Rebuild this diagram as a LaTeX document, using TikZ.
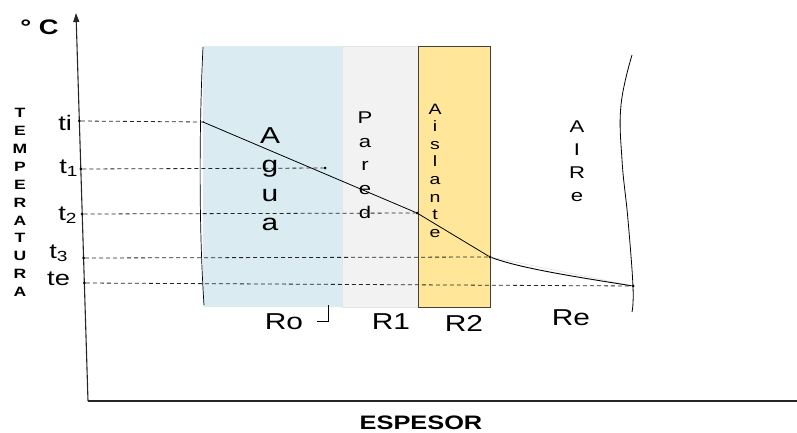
\documentclass[tikz,border=0pt]{standalone}
\usepackage{fontspec}
\setmainfont[FakeStretch=1.3]{Liberation Sans}
\usepackage{tikz}
\usetikzlibrary{arrows.meta,positioning}
\definecolor{WBlue}{HTML}{DAEBF2}
\definecolor{WGray}{HTML}{F2F2F2}
\definecolor{WGold}{HTML}{FFE699}
\definecolor{WEdge}{HTML}{404040}
\newcommand\fsz[2]{\fontsize{#1}{#2}\selectfont}

\begin{document}
\begin{tikzpicture}[
  x=1pt,y=-1pt,
  every node/.style={inner sep=0pt,outer sep=0pt},
  layer/.style={anchor=north west,minimum height=261pt,inner sep=0pt},
  dot/.style={circle,fill=black,minimum size=3pt,inner sep=0pt},
  guide/.style={dash pattern=on 4pt off 3pt,line width=0.8pt,color=black!85},
  axis/.style={line width=1.1pt,color=black!85},
  tick/.style={font=\fsz{21}{21},anchor=east},
  rlbl/.style={font=\fsz{23}{23}}
]
  \useasboundingbox (0,0) rectangle (797,433);

  % layers
  \node[layer,fill=WBlue,minimum width=139pt] (agua) at (203,46) {};
  \node[layer,fill=WGray,draw=black!10,minimum width=76pt] (pared) at (342,46) {};
  \node[layer,fill=WGold,draw=WEdge,line width=0.8pt,minimum width=72pt] (aislante) at (418,46) {};

  % axes
  \coordinate (org) at (88,401);
  \coordinate (ytop) at (76,13);
  \coordinate (xend) at (797,401);
  \draw[axis,-{Triangle[length=9pt,width=6pt]}] (org) -- (ytop);
  \draw[axis] (org) -- (xend);

  % boundaries of the fluid films
  \draw[line width=0.7pt] (203,47) .. controls (199,130) and (199,230) .. (204,305);
  \draw[line width=0.8pt] plot[smooth,tension=0.7] coordinates
    {(632,55) (621,105) (622,160) (628,220) (633,287) (632,312)};

  % points on the axis and on the profile
  \node[dot] (ai) at (79.3,121) {};
  \node[dot] (a1) at (80.8,169) {};
  \node[dot] (a2) at (82.2,214) {};
  \node[dot] (a3) at (83.6,258) {};
  \node[dot] (ae) at (84.4,283) {};
  \node[dot,minimum size=2pt] (pi) at (203,122) {};
  \node[dot] (p1) at (325,168) {};
  \node[dot] (p2) at (417,213) {};
  \node[dot] (p3) at (490,257) {};
  \node[dot] (pe) at (633,286) {};

  \foreach \a/\p in {ai/pi,a1/p1,a2/p2,a3/p3,ae/pe} {\draw[guide] (\a) -- (\p);}
  \draw[line width=0.8pt] (pi) -- (p2) -- (p3);
  \draw[black!12,line width=0.6pt] (p3) -- (pe);
  \draw[line width=0.9pt] (p3) .. controls (520,268) and (570,276) .. (pe);

  % temperature labels
  \node[tick] (lti) at (72,123) {ti};
  \node[tick] (lt1) at (78,168) {t\textsubscript{1}};
  \node[tick] (lt2) at (77,215) {t\textsubscript{2}};
  \node[tick] (lt3) at (68,253) {t\textsubscript{3}};
  \node[tick] (lte) at (70,279) {te};

  % layer names
  \node[font=\fsz{23}{29},align=center] (tagua) at (270,178.7) {A\\g\\u\\a};
  \node[font=\fsz{17}{23.7},align=center] (tpared) at (365,165) {P\\a\\r\\e\\d};
  \node[font=\fsz{15}{17.6},align=center] (taisl) at (435,170.6) {A\\i\\s\\l\\a\\n\\t\\e};
  \node[font=\fsz{17}{23},align=center] (taire) at (577,161.7) {A\\I\\R\\e};

  % resistances
  \node[rlbl] (ro) at (284,322) {Ro};
  \node[rlbl] (r1) at (391,322) {R1};
  \node[rlbl] (r2) at (464,323) {R2};
  \node[rlbl] (re) at (571,318) {Re};
  \draw[line width=0.6pt] (317,321) -- (328,321) -- (328,305);

  % axis titles
  \node[font=\bfseries\fsz{21}{21}] (unit) at (39.5,27) {° C};
  \node[font=\bfseries\fsz{13.5}{17.9},align=center] (temp) at (20,202.5)
    {T\\E\\M\\P\\E\\R\\A\\T\\U\\R\\A};
  \node[font=\bfseries\fsz{19.5}{19.5}] (espesor) at (421,423) {ESPESOR};
\end{tikzpicture}
\end{document}
